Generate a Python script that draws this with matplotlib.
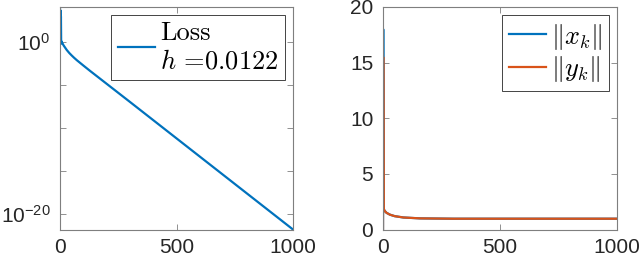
import numpy as np
import matplotlib
matplotlib.use("Agg")
import matplotlib.pyplot as plt
from matplotlib.ticker import FixedLocator, FixedFormatter, NullLocator

# left panel: loss history
loss_iter = [0, 1, 2, 3, 4, 5, 6, 7, 15, 29, 40, 50, 60, 72, 100, 129, 200, 300, 1000]
loss_vals = [1.26e4, 0.6, 5.0e3, 0.7, 1.0e3, 0.8, 1.3, 1.17, 0.45, 0.126, 0.056, 0.0295,
             0.0162, 8.3e-3, 2.0e-3, 4.7e-4, 1.5e-5, 1.17e-7, 1.7e-22]
loss_label = "Loss\n$h$ =0.0122"

# right panel: norms of the iterates
norm_iter = [0, 1, 3, 6, 15, 30, 50, 87, 158, 300, 1000]
x_norm = [0, 18.0, 1.9, 1.7, 1.5, 1.33, 1.2, 1.08, 1.0, 0.97, 0.97]
y_norm = [0, 15.5, 1.9, 1.7, 1.5, 1.33, 1.2, 1.08, 1.0, 0.97, 0.97]
norm_labels = [r"$\Vert x_k\Vert$", r"$\Vert y_k\Vert$"]

log_ticks = [1e-20, 1e-15, 1e-10, 1e-5, 1e0]
log_tick_labels = ["$10^{-20}$", "", "", "", "$10^{0}$"]

BLUE = "#0072BD"
ORANGE = "#D95319"
AX_GRAY = "#262626"

plt.rcParams["font.family"] = ["Liberation Sans", "DejaVu Sans"]
plt.rcParams["mathtext.fontset"] = "custom"
plt.rcParams["mathtext.rm"] = "Liberation Sans"
plt.rcParams["mathtext.it"] = "Liberation Sans:italic"


def style_axes(ax):
    for s in ax.spines.values():
        s.set_color("#7f7f7f")
        s.set_linewidth(0.8)
    ax.tick_params(direction="in", top=True, right=True, length=4, width=0.6,
                   color="#7f7f7f", labelsize=15, labelcolor=AX_GRAY)
    ax.tick_params(axis="x", pad=6)
    ax.tick_params(axis="y", pad=7)
    ax.minorticks_off()


def cm_legend(ax):
    leg = ax.legend(loc="upper right", fancybox=False, framealpha=1,
                    edgecolor=AX_GRAY, prop={"family": "cmr10", "size": 19},
                    borderpad=0.25, borderaxespad=0.3, handlelength=1.4,
                    handletextpad=0.2, labelspacing=0.1)
    leg.get_frame().set_linewidth(0.6)
    for t in leg.get_texts():
        t.set_math_fontfamily("cm")
    return leg


fig = plt.figure(figsize=(6.4, 2.62), dpi=100)
ax1 = fig.add_axes([60 / 640, 1 - 229.5 / 262, 233 / 640, 222.5 / 262])
ax2 = fig.add_axes([383 / 640, 1 - 229.5 / 262, 234 / 640, 222.5 / 262])

ax1.semilogy(loss_iter, loss_vals, color=BLUE, lw=1.6, label=loss_label)
ax1.set_xlim(0, 1000)
ax1.set_ylim(min(loss_vals), max(loss_vals))
ax1.set_xticks([0, 500, 1000])
ax1.yaxis.set_major_locator(FixedLocator(log_ticks))
ax1.yaxis.set_major_formatter(FixedFormatter(log_tick_labels))
ax1.yaxis.set_minor_locator(NullLocator())
style_axes(ax1)
cm_legend(ax1)

ax2.plot(norm_iter, x_norm, color=BLUE, lw=1.6, label=norm_labels[0])
ax2.plot(norm_iter, y_norm, color=ORANGE, lw=1.6, label=norm_labels[1])
ax2.set_xlim(0, 1000)
ax2.set_ylim(0, 20)
ax2.set_xticks([0, 500, 1000])
ax2.set_yticks([0, 5, 10, 15, 20])
style_axes(ax2)
cm_legend(ax2)

fig.savefig("out.png", dpi=100)
